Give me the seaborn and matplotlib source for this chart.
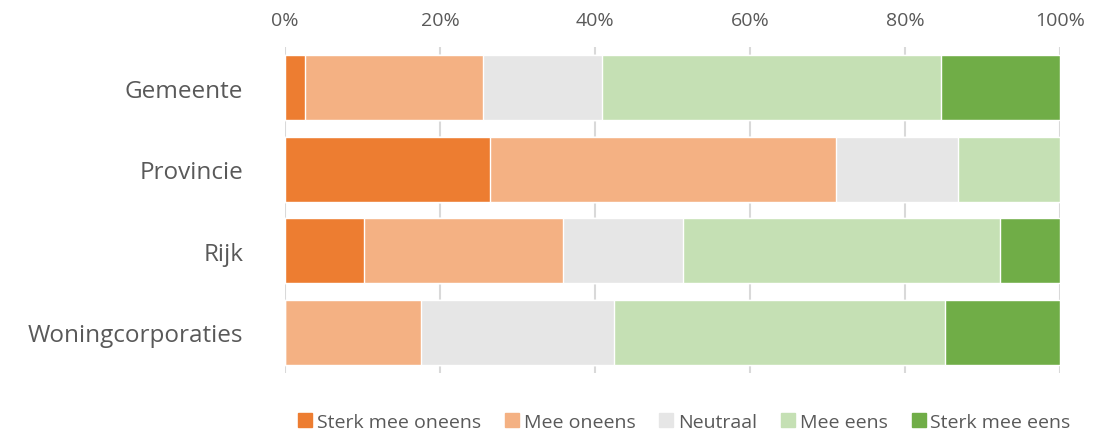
import matplotlib
matplotlib.use("Agg")
import matplotlib.pyplot as plt
from matplotlib.lines import Line2D
import seaborn as sns
import pandas as pd
import numpy as np

categories = ["Gemeente", "Provincie", "Rijk", "Woningcorporaties"]
series_names = ["Sterk mee oneens", "Mee oneens", "Neutraal", "Mee eens", "Sterk mee eens"]
sterk_oneens = [2.6, 26.4, 10.2, 0.0]
mee_oneens = [22.9, 44.7, 25.7, 17.5]
neutraal = [15.4, 15.7, 15.4, 25.0]
mee_eens = [43.7, 13.2, 41.0, 42.6]
sterk_eens = [15.4, 0.0, 7.7, 14.9]
colors = ["#ED7D31", "#F4B183", "#E6E6E6", "#C5E0B4", "#70AD47"]
xticks = [0, 20, 40, 60, 80, 100]
xticklabels = ["0%", "20%", "40%", "60%", "80%", "100%"]

sns.set_theme(style="white")
plt.rcParams['font.family'] = ['Open Sans', 'DejaVu Sans']

values = np.array([sterk_oneens, mee_oneens, neutraal, mee_eens, sterk_eens])
total = values.sum(axis=0)
values = values / total * 100
cum = np.cumsum(values, axis=0)

fig = plt.figure(figsize=(11.06, 4.35), dpi=100)
ax = fig.add_axes([285/1106, (435-374)/435, 775/1106, 326/435])

for i in range(len(series_names) - 1, -1, -1):
    df = pd.DataFrame({"cat": categories, "val": cum[i]})
    sns.barplot(data=df, y="cat", x="val", order=categories, color=colors[i],
                orient="h", width=0.8, ax=ax, saturation=1, zorder=2)

ax.set_xlim(0, 100)
ax.set_ylim(3.5, -0.5)
ax.set_xticks(xticks)
ax.set_xticklabels(xticklabels)
ax.xaxis.tick_top()
ax.tick_params(axis="x", colors="#595959", labelsize=14, length=0, pad=13)
ax.tick_params(axis="y", colors="#595959", labelsize=17.5, length=0, pad=30)
ax.grid(axis="x", color="#D9D9D9", linewidth=1.5, zorder=0)
ax.set_axisbelow(True)
ax.set_xlabel("")
ax.set_ylabel("")
for s in ax.spines.values():
    s.set_visible(False)

handles = [Line2D([0], [0], marker="s", linestyle="none", markersize=10,
                  markerfacecolor=c, markeredgecolor=c) for c in colors]
leg = fig.legend(handles, series_names, loc="center", bbox_to_anchor=(683/1106, 1 - 423/435),
                 ncol=5, frameon=False, fontsize=14, handletextpad=0.1, columnspacing=1.1,
                 handlelength=1.0)
for t in leg.get_texts():
    t.set_color("#595959")

fig.savefig("out.png", dpi=100)
